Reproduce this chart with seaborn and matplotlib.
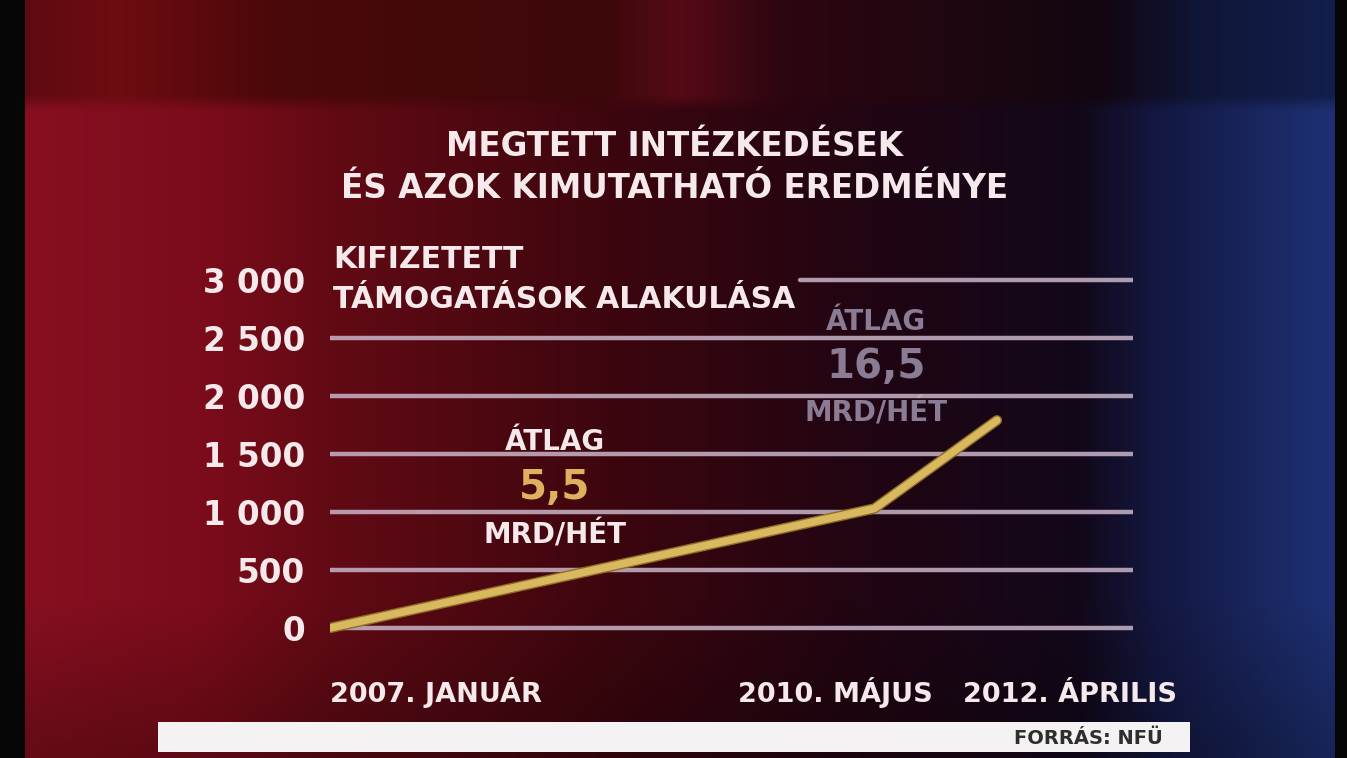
import numpy as np
import pandas as pd
import matplotlib
matplotlib.use("Agg")
import matplotlib.pyplot as plt
import matplotlib.patheffects as pe
from matplotlib.patches import Rectangle
import seaborn as sns

# --- adatok ---
periods = ["2007. JANUÁR", "2010. MÁJUS", "2012. ÁPRILIS"]
step = [0, 40, 49]              # sematikus x-pozíció (a grafikon nem időarányos)
payments = [0, 1030, 1790]      # kifizetett támogatások, mrd Ft
y_ticks = [0, 500, 1000, 1500, 2000, 2500, 3000]
y_labels = ["0", "500", "1 000", "1 500", "2 000", "2 500", "3 000"]
avg_labels = ["5,5", "16,5"]

sns.set_style("white")
plt.rcParams["font.family"] = ["DejaVu Sans"]
plt.rcParams["font.weight"] = "bold"

W, H = 1347, 758
WHITE = "#f5e9ec"
fig = plt.figure(figsize=(W / 100, H / 100), dpi=100)

# --- háttér: vörös -> sötét -> kék színátmenet ---
xs = np.arange(W)
yy = np.arange(H)[:, None]
def band(stops):
    px = [s[0] for s in stops]
    return np.stack([np.interp(xs, px, [s[1][c] for s in stops]) for c in range(3)], axis=-1)

main = band([(25, (135, 15, 32)), (200, (124, 12, 27)), (330, (98, 10, 20)),
             (600, (62, 6, 14)), (850, (34, 5, 18)), (1080, (18, 8, 26)),
             (1160, (20, 24, 66)), (1330, (30, 48, 115))])
top = band([(25, (95, 10, 18)), (120, (110, 12, 16)), (270, (75, 8, 10)),
            (600, (60, 8, 10)), (680, (85, 10, 22)), (780, (45, 6, 16)),
            (1100, (18, 6, 16)), (1200, (15, 22, 55)), (1330, (18, 30, 75))])
w_top = np.clip((110 - yy) / 15.0, 0, 1)[..., None]
img = main[None, :, :] * (1 - w_top) + top[None, :, :] * w_top
img = img * (1 - 0.25 * np.clip((yy - 600) / 150.0, 0, 1))[..., None]
img[:, :25] = 5
img[:, 1335:] = 5
bg = fig.add_axes([0, 0, 1, 1])
bg.imshow(img.astype(np.uint8), aspect="auto", extent=[0, W, H, 0])
bg.set_axis_off()

# --- fő diagram ---
ax = fig.add_axes([330 / W, 1 - 650 / H, 803 / W, 390 / H])
ax.set_facecolor("none")
ax.set_xlim(0, 59)
ax.set_ylim(-190, 3172)
for v in y_ticks:
    # a legfelső vonalat a felirat takarja
    ax.axhline(v, xmin=0.585 if v == y_ticks[-1] else 0, color="#c9b5c8",
               lw=3.2, alpha=0.85, zorder=2)

df = pd.DataFrame({"step": step, "payments": payments})
sns.lineplot(data=df, x="step", y="payments", ax=ax, color="#d9b95f", lw=5.5,
             zorder=4, solid_capstyle="round", solid_joinstyle="round",
             path_effects=[pe.Stroke(linewidth=7.5, foreground="#8f6d25"), pe.Normal()])

ax.set_yticks(y_ticks, y_labels)
ax.tick_params(axis="y", length=0, pad=18, labelsize=23.5, labelcolor=WHITE)
for lab in ax.get_yticklabels():
    lab.set_fontweight("bold")
ax.set_xticks([])
ax.set_xlabel("")
ax.set_ylabel("")
sns.despine(ax=ax, left=True, bottom=True)

# időszak feliratok közös alapvonalon
xlab_tr = ax.get_xaxis_transform()
for xp, txt, ha in zip([0, 37.1, 54.4], periods, ["left", "center", "center"]):
    ax.text(xp, -0.133, txt, transform=xlab_tr, ha=ha, va="baseline",
            fontsize=19.5, fontweight="bold", color=WHITE, clip_on=False)

# átlag feliratok
ax.text(16.5, 1603, "ÁTLAG", ha="center", va="center", fontsize=20, color=WHITE, zorder=5)
ax.text(16.5, 1207, avg_labels[0], ha="center", va="center", fontsize=29, color="#dfb15e", zorder=5)
ax.text(16.5, 802, "MRD/HÉT", ha="center", va="center", fontsize=20, color=WHITE, zorder=5)
ax.text(40.1, 2638, "ÁTLAG", ha="center", va="center", fontsize=20, color="#8a7c94", zorder=1)
ax.text(40.1, 2250, avg_labels[1], ha="center", va="center", fontsize=29, color="#8a7c94", zorder=1)
ax.text(40.1, 1853, "MRD/HÉT", ha="center", va="center", fontsize=20, color="#8a7c94", zorder=1)

# címek
fig.text(675 / W, 1 - 147 / H, "MEGTETT INTÉZKEDÉSEK", ha="center", va="center",
         fontsize=23.5, fontweight="bold", color=WHITE)
fig.text(675 / W, 1 - 188 / H, "ÉS AZOK KIMUTATHATÓ EREDMÉNYE", ha="center", va="center",
         fontsize=23.5, fontweight="bold", color=WHITE)
fig.text(333 / W, 1 - 260 / H, "KIFIZETETT", ha="left", va="center",
         fontsize=21.5, fontweight="bold", color=WHITE)
fig.text(333 / W, 1 - 300 / H, "TÁMOGATÁSOK ALAKULÁSA", ha="left", va="center",
         fontsize=21.5, fontweight="bold", color=WHITE, zorder=6)

# forrás sáv
fig.patches.append(Rectangle((158 / W, 1 - 752 / H), 1032 / W, 30 / H,
                             transform=fig.transFigure, facecolor="#f4f2f3",
                             edgecolor="none", zorder=5))
fig.text(1163 / W, 1 - 739 / H, "FORRÁS: NFÜ", ha="right", va="center",
         fontsize=14, fontweight="bold", color="#2e2e2e", zorder=6)

fig.savefig("out.png", dpi=100)
